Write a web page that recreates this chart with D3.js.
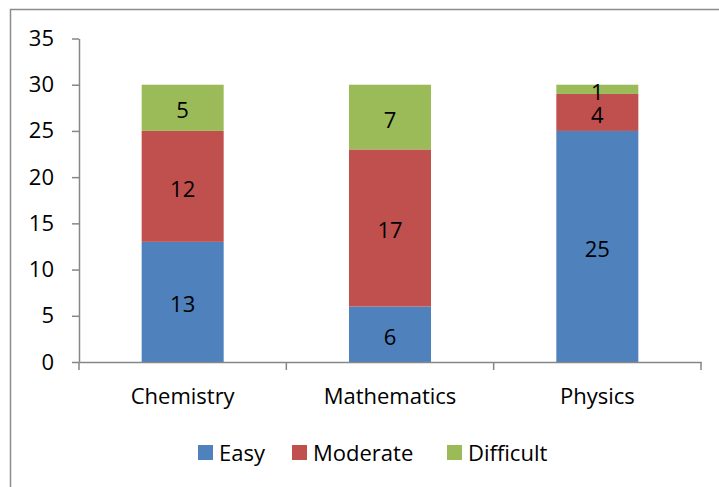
<!DOCTYPE html>
<html>
<head>
    <meta charset="utf-8">
    <script src="https://d3js.org/d3.v7.min.js"></script>
    <style>
        body { margin: 0; background: #fff; }
        svg text { font-family: 'Open Sans', sans-serif; fill: #000; }
    </style>
</head>
<body>
    <div id="chart"></div>
    <script>
        const subjects = ["Chemistry", "Mathematics", "Physics"]
        const levels = ["Easy", "Moderate", "Difficult"]
        const easy = [13, 6, 25]
        const moderate = [12, 17, 4]
        const difficult = [5, 7, 1]
        const yTicks = [0, 5, 10, 15, 20, 25, 30, 35]
        const colors = ["#4F81BD", "#C0504D", "#9BBB59"]

        const w = 719, h = 487
        const margin = { top: 38.5, right: 18, bottom: 125, left: 79 }
        const fs = "22px"

        const rows = subjects.map((s, i) => ({ subject: s, Easy: easy[i], Moderate: moderate[i], Difficult: difficult[i] }))
        const stacked = d3.stack().keys(levels)(rows)

        const svg = d3.select("#chart").append("svg").attr("width", w).attr("height", h)

        // outer frame (only top and left visible)
        svg.append("rect")
            .attr("x", 10.5).attr("y", 9.5)
            .attr("width", w + 20).attr("height", h + 20)
            .style("fill", "none").style("stroke", "#8c8c8c").style("stroke-width", 1.5)

        const x = d3.scaleBand().domain(subjects).range([margin.left, w - margin.right])
        const y = d3.scaleLinear().domain([0, 35]).range([h - margin.bottom, margin.top])
        const barW = 82

        const layer = svg.selectAll("g.layer")
            .data(stacked)
            .enter()
            .append("g")
            .attr("class", "layer")
            .style("fill", (d, i) => colors[i])

        layer.selectAll("rect")
            .data(d => d)
            .enter()
            .append("rect")
            .attr("x", d => x(d.data.subject) + x.bandwidth() / 2 - barW / 2)
            .attr("y", d => y(d[1]))
            .attr("width", barW)
            .attr("height", d => y(d[0]) - y(d[1]))

        // value labels, sitting a little below the segment centre like Excel does
        stacked.forEach(s => {
            svg.selectAll(null)
                .data(s)
                .enter()
                .append("text")
                .attr("x", d => x(d.data.subject) + x.bandwidth() / 2)
                .attr("y", d => (y(d[0]) + y(d[1])) / 2 + 10.5)
                .attr("text-anchor", "middle")
                .style("font-size", fs)
                .text(d => d[1] - d[0])
        })

        const yAxis = d3.axisLeft(y).tickValues(yTicks).tickSize(7).tickSizeOuter(0).tickPadding(18)
        const gy = svg.append("g")
            .attr("transform", "translate(" + margin.left + ",0)")
            .call(yAxis)
        gy.selectAll("text").style("font-size", fs)

        const xAxis = d3.axisBottom(x).tickSize(0).tickSizeOuter(0).tickPadding(26)
        const gx = svg.append("g")
            .attr("transform", "translate(0," + (h - margin.bottom) + ")")
            .call(xAxis)
        gx.selectAll("text").style("font-size", fs)

        // category boundary ticks
        const bounds = subjects.map(s => x(s)).concat([x.range()[1]])
        gx.selectAll("line.bound")
            .data(bounds)
            .enter()
            .append("line")
            .attr("class", "bound")
            .attr("x1", d => d).attr("x2", d => d)
            .attr("y1", 0).attr("y2", 8)

        svg.selectAll(".domain, .tick line, line.bound")
            .style("stroke", "#868686").style("stroke-width", 1.5)

        // legend
        const legendX = [198, 292, 447]
        const legend = svg.selectAll("g.legend")
            .data(levels)
            .enter()
            .append("g")
            .attr("class", "legend")
            .attr("transform", (d, i) => "translate(" + legendX[i] + ",445)")
        legend.append("rect").attr("width", 15).attr("height", 15).style("fill", (d, i) => colors[i])
        legend.append("text").attr("x", 21).attr("y", 16).style("font-size", fs).text(d => d)
    </script>
</body>
</html>
